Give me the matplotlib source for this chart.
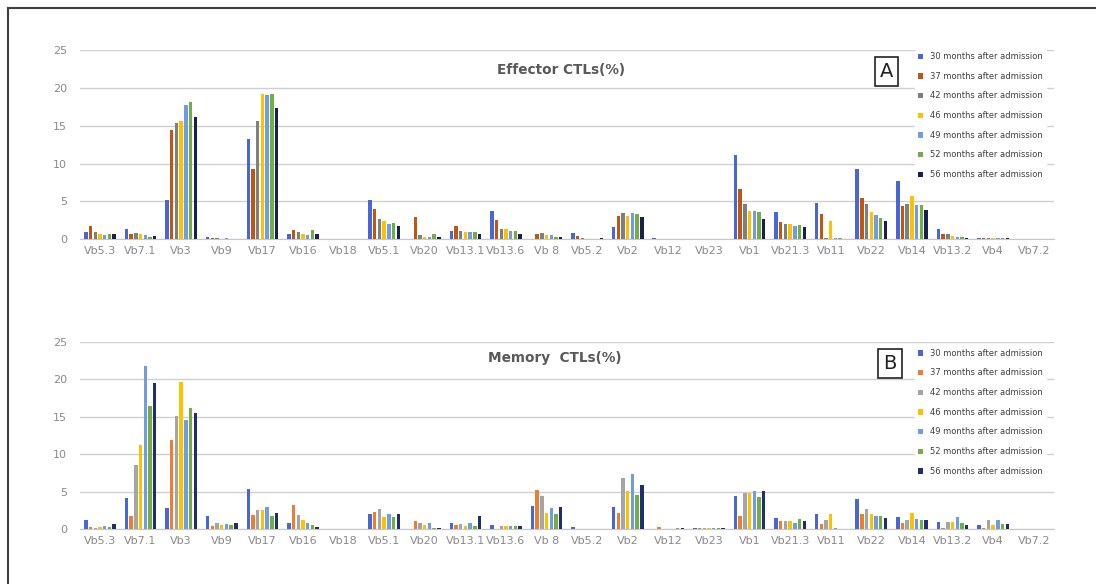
import numpy as np
import matplotlib
matplotlib.use("Agg")
import matplotlib.pyplot as plt
from matplotlib.lines import Line2D

genes = ["Vb5.3", "Vb7.1", "Vb3", "Vb9", "Vb17", "Vb16", "Vb18", "Vb5.1", "Vb20",
         "Vb13.1", "Vb13.6", "Vb 8", "Vb5.2", "Vb2", "Vb12", "Vb23", "Vb1", "Vb21.3",
         "Vb11", "Vb22", "Vb14", "Vb13.2", "Vb4", "Vb7.2"]
months = ["30 months after admission", "37 months after admission", "42 months after admission",
          "46 months after admission", "49 months after admission", "52 months after admission",
          "56 months after admission"]

# effector CTLs (%), one list per time point
eff_30 = [0.97, 1.3, 5.15, 0.35, 13.2, 0.7, 0, 5.2, 0, 1.15, 3.7, 0.1, 0.88, 1.6, 0.18, 0, 11.1, 3.57, 4.85, 9.3, 7.66, 1.4, 0.15, 0]
eff_37 = [1.76, 0.7, 14.4, 0.18, 9.3, 1.19, 0, 4.0, 2.95, 1.76, 2.5, 0.7, 0.44, 3.1, 0, 0, 6.65, 2.33, 3.4, 5.45, 4.36, 0.66, 0.15, 0]
eff_42 = [1.0, 0.88, 15.3, 0.18, 15.6, 0.97, 0, 2.64, 0.53, 1.15, 1.4, 0.88, 0.18, 3.5, 0, 0, 4.6, 2.07, 0.22, 4.72, 4.67, 0.66, 0.15, 0]
eff_46 = [0.7, 0.7, 15.6, 0, 19.2, 0.7, 0, 2.47, 0.35, 0.97, 1.4, 0.53, 0.1, 3.1, 0, 0, 3.8, 2.07, 2.38, 3.55, 5.7, 0.48, 0.15, 0]
eff_49 = [0.53, 0.53, 17.8, 0.13, 19.0, 0.53, 0, 2.0, 0.35, 0.97, 1.15, 0.53, 0.1, 3.5, 0, 0, 3.8, 1.76, 0.13, 3.2, 4.5, 0.3, 0.15, 0]
eff_52 = [0.7, 0.35, 18.15, 0, 19.2, 1.19, 0, 2.2, 0.7, 0.97, 1.15, 0.35, 0.1, 3.4, 0, 0, 3.57, 1.9, 0.13, 2.75, 4.5, 0.3, 0.15, 0]
eff_56 = [0.7, 0.44, 16.2, 0, 17.3, 0.7, 0, 1.76, 0.26, 0.7, 0.7, 0.35, 0.18, 2.95, 0, 0, 2.64, 1.6, 0, 2.48, 3.83, 0.22, 0.15, 0]

# memory CTLs (%)
mem_30 = [1.2, 4.18, 2.84, 1.78, 5.38, 0.89, 0.1, 2.09, 0.09, 0.89, 0.53, 3.11, 0.27, 2.98, 0.09, 0.18, 4.49, 1.47, 2.09, 4.02, 1.6, 1.02, 0.53, 0]
mem_37 = [0.27, 1.78, 11.87, 0.4, 1.91, 3.29, 0, 2.36, 1.16, 0.53, 0.09, 5.24, 0.09, 2.22, 0.27, 0.18, 1.78, 1.16, 0.71, 2.09, 0.89, 0.22, 0.13, 0]
mem_42 = [0.22, 8.53, 15.1, 0.89, 2.62, 1.91, 0, 2.67, 0.8, 0.71, 0.4, 4.49, 0.09, 6.89, 0.09, 0.18, 4.89, 1.16, 1.29, 2.67, 1.2, 1.02, 1.2, 0]
mem_46 = [0.27, 11.24, 19.7, 0.53, 2.62, 1.29, 0, 1.6, 0.53, 0.4, 0.4, 2.22, 0.09, 5.07, 0.09, 0.18, 4.89, 1.16, 2.09, 2.09, 2.22, 1.02, 0.53, 0]
mem_49 = [0.4, 21.8, 14.53, 0.71, 2.98, 0.89, 0, 2.09, 0.89, 0.89, 0.4, 2.8, 0.09, 7.38, 0, 0.18, 5.07, 0.89, 0.22, 1.78, 1.42, 1.6, 1.2, 0]
mem_52 = [0.27, 16.5, 16.2, 0.53, 1.78, 0.53, 0, 1.6, 0.18, 0.4, 0.4, 2.04, 0.09, 4.62, 0.18, 0.18, 4.36, 1.33, 0.09, 1.78, 1.2, 0.89, 0.71, 0]
mem_56 = [0.76, 19.56, 15.47, 0.89, 2.22, 0.27, 0, 2.09, 0.22, 1.78, 0.4, 2.98, 0.09, 5.87, 0.18, 0.18, 5.07, 1.16, 0.09, 1.47, 1.2, 0.53, 0.71, 0]

eff = [eff_30, eff_37, eff_42, eff_46, eff_49, eff_52, eff_56]
mem = [mem_30, mem_37, mem_42, mem_46, mem_49, mem_52, mem_56]

colors_a = ["#4867D6", "#C0560F", "#7F7F7F", "#FFC000", "#6E9DE2", "#72AE45", "#17214F"]
colors_b = ["#4867D6", "#ED7D31", "#A5A5A5", "#FFC000", "#6E9DE2", "#72AE45", "#1F2E6E"]

fig = plt.figure(figsize=(10.96, 5.84), dpi=100)
fig.patch.set_facecolor("white")

x = np.arange(len(genes))
slot = 0.116
width = 0.085


def panel(rect, data, colors, title, title_pos, letter, letter_box, leg_top):
    ax = fig.add_axes(rect)
    bars = []
    for i, vals in enumerate(data):
        b = ax.bar(x + (i - 3) * slot, vals, width, color=colors[i], label=months[i], zorder=3)
        bars.append(b)
    ax.set_xlim(-0.5, len(genes) - 0.5)
    ax.set_ylim(0, 25)
    ax.set_yticks([0, 5, 10, 15, 20, 25])
    ax.set_xticks(x)
    ax.set_xticklabels(genes)
    ax.tick_params(axis="both", length=0, colors="#8A8A8A", labelsize=8)
    ax.tick_params(axis="y", pad=9)
    ax.tick_params(axis="x", pad=5)
    for s in ["top", "right", "left"]:
        ax.spines[s].set_visible(False)
    ax.spines["bottom"].set_color("#C8C8C8")
    ax.grid(axis="y", color="#D0D0D0", linewidth=1, zorder=0)
    ax.set_axisbelow(True)
    ax.text(title_pos[0], title_pos[1], title, transform=ax.transAxes, ha="center", va="center",
            fontsize=9.8, fontweight="bold", color="#595959")
    fig.text(letter_box[0], letter_box[1], letter, ha="center", va="center", fontsize=14,
             color="#222222",
             bbox=dict(boxstyle="square,pad=0.25", fc="white", ec="#222222", lw=1.2))
    leg = fig.legend(handles=bars, labels=months, loc="upper left",
                     bbox_to_anchor=(0.835, leg_top), fontsize=6, frameon=True,
                     handlelength=0.6, handleheight=0.6, handletextpad=0.9,
                     labelspacing=1.28, borderpad=0.3, borderaxespad=0)
    leg.get_frame().set_edgecolor("white")
    leg.get_frame().set_facecolor("white")
    leg.get_frame().set_alpha(1)
    for t in leg.get_texts():
        t.set_color("#404040")
    return ax


panel([0.0727, 0.5902, 0.889, 0.3242], eff, colors_a, "Effector CTLs(%)", (0.494, 0.894), "A",
      (0.809, 0.877), 0.915)
panel([0.0727, 0.0937, 0.889, 0.3207], mem, colors_b, "Memory  CTLs(%)", (0.488, 0.914), "B",
      (0.812, 0.378), 0.407)

# outer frame, cropped at right and bottom
fig.add_artist(Line2D([8 / 1096, 1], [1 - 8 / 584, 1 - 8 / 584], transform=fig.transFigure,
                      color="#404040", lw=1.5))
fig.add_artist(Line2D([8 / 1096, 8 / 1096], [0, 1 - 8 / 584], transform=fig.transFigure,
                      color="#404040", lw=1.5))

fig.savefig("out.png", dpi=100, facecolor="white")
